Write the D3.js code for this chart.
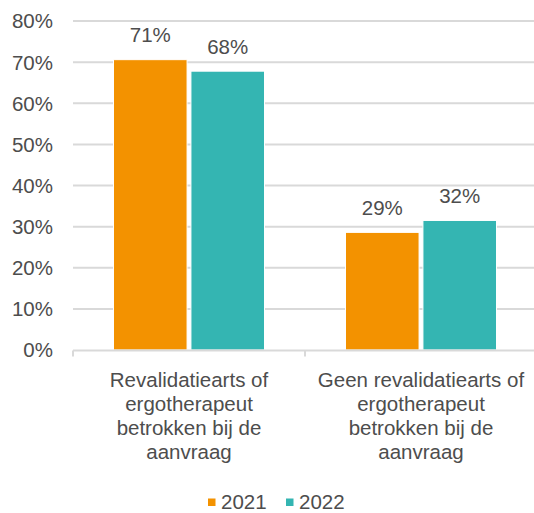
<!DOCTYPE html>
<html>
<head>
<meta charset="utf-8">
<script src="https://cdn.jsdelivr.net/npm/d3@7"></script>
<style>
  html, body { margin: 0; padding: 0; background: #fff; }
  svg text { font-family: "Liberation Sans", Arial, sans-serif; fill: #4d4d4d; }
</style>
</head>
<body>
<div id="chart"></div>
<script>
// data
const categories = [
    ["Revalidatiearts of", "ergotherapeut", "betrokken bij de", "aanvraag"],
    ["Geen revalidatiearts of", "ergotherapeut", "betrokken bij de", "aanvraag"]
];
const seriesNames = ["2021", "2022"];
const values2021 = [70.6, 28.6];
const values2022 = [67.8, 31.5];
const yTicks = [0, 10, 20, 30, 40, 50, 60, 70, 80];
const colors = ["#F39200", "#34B5B2"];

const width = 534, height = 513;
const margin = { top: 21, left: 73 };
const plotRight = 537; // last category band runs slightly past the window
const fontSize = 20.5;

const svg = d3.select("#chart").append("svg")
    .attr("width", width)
    .attr("height", height);

const y = d3.scaleLinear().domain([0, 80]).range([350, margin.top]);
const x0 = d3.scaleBand().domain(d3.range(categories.length)).range([margin.left, plotRight]);
const groupW = 151;
const x1 = d3.scaleBand().domain(seriesNames).range([0, groupW]).paddingInner(0.05);

// gridlines
svg.append("g").selectAll("line")
    .data(yTicks.filter(t => t > 0))
    .join("line")
    .attr("x1", margin.left).attr("x2", width)
    .attr("y1", d => y(d)).attr("y2", d => y(d))
    .attr("stroke", "#d9d9d9").attr("stroke-width", 2);

// y tick labels
svg.append("g").selectAll("text")
    .data(yTicks)
    .join("text")
    .attr("x", 53)
    .attr("y", d => y(d))
    .attr("dy", "0.36em")
    .attr("text-anchor", "end")
    .style("font-size", fontSize + "px")
    .text(d => d + "%");

// bars
const rows = categories.map((c, i) => ({ i, vals: [values2021[i], values2022[i]] }));
const groups = svg.append("g").selectAll("g")
    .data(rows)
    .join("g")
    .attr("transform", d => `translate(${x0(d.i) + (x0.bandwidth() - groupW) / 2},0)`);

groups.selectAll("rect")
    .data(d => d.vals.map((v, k) => ({ k, v })))
    .join("rect")
    .attr("x", d => x1(seriesNames[d.k]))
    .attr("width", x1.bandwidth())
    .attr("y", d => y(d.v))
    .attr("height", d => y(0) - y(d.v))
    .attr("fill", d => colors[d.k])
    .attr("stroke", "#fff")
    .attr("stroke-width", 1);

groups.selectAll("text.val")
    .data(d => d.vals.map((v, k) => ({ k, v })))
    .join("text")
    .attr("class", "val")
    .attr("x", d => x1(seriesNames[d.k]) + x1.bandwidth() / 2)
    .attr("y", d => y(d.v) - 25)
    .attr("dy", "0.36em")
    .attr("text-anchor", "middle")
    .style("font-size", fontSize + "px")
    .text(d => Math.round(d.v) + "%");

// x axis line and ticks
const axisY = y(0) + 0.5;
svg.append("line")
    .attr("x1", margin.left).attr("x2", width)
    .attr("y1", axisY).attr("y2", axisY)
    .attr("stroke", "#d9d9d9").attr("stroke-width", 2);

const tickXs = d3.range(categories.length).map(i => x0(i));
svg.append("g").selectAll("line")
    .data(tickXs)
    .join("line")
    .attr("x1", d => d).attr("x2", d => d)
    .attr("y1", axisY).attr("y2", axisY + 6)
    .attr("stroke", "#d9d9d9").attr("stroke-width", 2);

// category labels
const catText = svg.append("g").selectAll("text")
    .data(categories)
    .join("text")
    .attr("x", (d, i) => x0(i) + x0.bandwidth() / 2)
    .attr("y", 380)
    .attr("text-anchor", "middle")
    .style("font-size", fontSize + "px");
catText.selectAll("tspan")
    .data(d => d)
    .join("tspan")
    .attr("x", function() { return this.parentNode.getAttribute("x"); })
    .attr("y", (d, j) => 380 + j * 24)
    .attr("dy", "0.36em")
    .text(d => d);

// legend
const legend = svg.append("g").attr("transform", "translate(208,502)");
const legendX = [0, 78];
seriesNames.forEach((s, k) => {
    legend.append("rect")
        .attr("x", legendX[k]).attr("y", -3.5)
        .attr("width", 7.5).attr("height", 7.5)
        .attr("fill", colors[k]);
    legend.append("text")
        .attr("x", legendX[k] + 13)
        .attr("y", 0)
        .attr("dy", "0.36em")
        .style("font-size", fontSize + "px")
        .text(s);
});
</script>
</body>
</html>
